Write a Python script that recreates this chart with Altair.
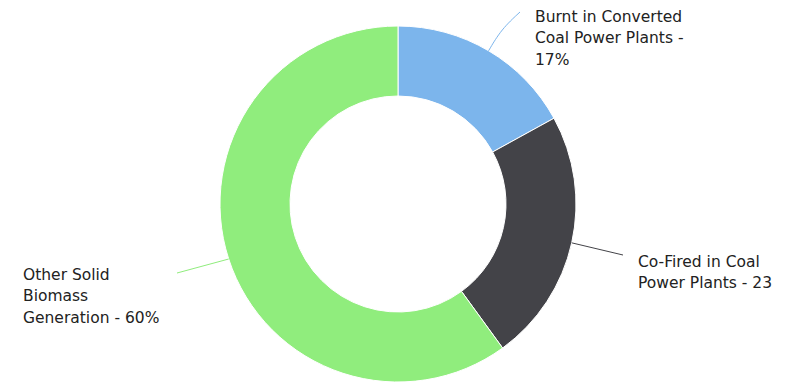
import altair as alt
import pandas as pd
import numpy as np

# ---- data ----
categories = [
    "Burnt in Converted Coal Power Plants",
    "Co-Fired in Coal Power Plants",
    "Other Solid Biomass Generation",
]
values = [17, 23, 60]
label_texts = [
    "Burnt in Converted\nCoal Power Plants -\n17%",
    "Co-Fired in Coal\nPower Plants - 23",
    "Other Solid\nBiomass\nGeneration - 60%",
]

# ---- styling / layout ----
colors = ["#7cb5ec", "#434348", "#90ed7d"]
W, H = 794, 383
CX, CY = 398, 204
R_OUT, R_IN = 178, 108
label_x = [535, 638, 23]
label_y = [22, 266.5, 280]
conn_end = [(520, 12), (623, 255), (177, 273)]
conn_bend_r = [203, None, None]

df = pd.DataFrame({"category": categories, "value": values, "idx": range(len(values))})

# connectors computed from slice mid-angles
tot = sum(values)
cum = np.cumsum([0] + values)
rows = []
for i, c in enumerate(categories):
    mid = (cum[i] + values[i] / 2) / tot * 2 * np.pi
    sx, sy = CX + R_OUT * np.sin(mid), CY - R_OUT * np.cos(mid)
    pts = [(sx, sy)]
    if conn_bend_r[i]:
        r = conn_bend_r[i]
        pts.append((CX + r * np.sin(mid), CY - r * np.cos(mid)))
    pts.append(conn_end[i])
    for k, (px, py) in enumerate(pts):
        rows.append({"category": c, "k": k, "px": px, "py": py})
conn = pd.DataFrame(rows)

labels = pd.DataFrame({"category": categories, "text": label_texts, "lx": label_x, "ly": label_y})

color_scale = alt.Scale(domain=categories, range=colors)
xs = alt.Scale(domain=[0, W], range=[0, W])
ys = alt.Scale(domain=[0, H], range=[0, H])

arcs = alt.Chart(df).mark_arc(
    innerRadius=R_IN, outerRadius=R_OUT, stroke="white", strokeWidth=1
).encode(
    theta=alt.Theta("value:Q", stack=True),
    color=alt.Color("category:N", scale=color_scale, legend=None),
    order=alt.Order("idx:Q"),
    x=alt.value(CX),
    y=alt.value(CY),
)

lines = alt.Chart(conn).mark_line(strokeWidth=1, interpolate="basis").encode(
    x=alt.X("px:Q", scale=xs, axis=None),
    y=alt.Y("py:Q", scale=ys, axis=None),
    detail="category:N",
    order="k:Q",
    color=alt.Color("category:N", scale=color_scale, legend=None),
)

texts = alt.Chart(labels).mark_text(
    align="left", baseline="alphabetic", font="DejaVu Sans", fontSize=15.5,
    lineBreak="\n", lineHeight=21.3, color="#222222",
).encode(
    x=alt.X("lx:Q", scale=xs, axis=None),
    y=alt.Y("ly:Q", scale=ys, axis=None),
    text="text:N",
)

chart = alt.layer(arcs, lines, texts).resolve_scale(color="shared").properties(
    width=W, height=H, padding=0, autosize="none"
).configure_view(stroke=None)

chart.save("out.html", embed_options={"renderer": "svg", "actions": False})
